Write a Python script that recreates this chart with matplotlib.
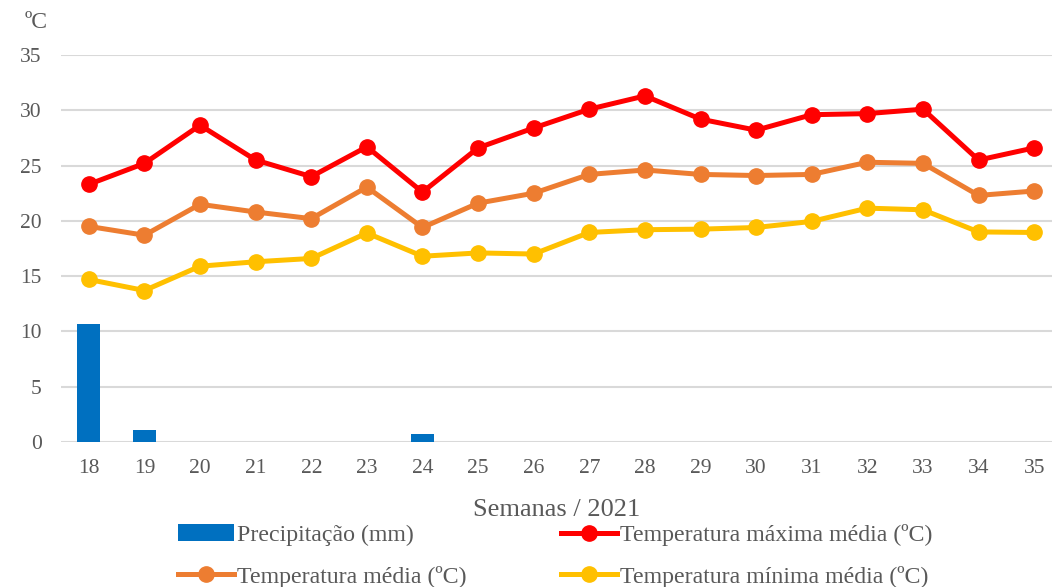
import matplotlib
matplotlib.use("Agg")
import matplotlib.pyplot as plt

# ── Data ─────────────────────────────────────────────────────────────
weeks = [18, 19, 20, 21, 22, 23, 24, 25, 26, 27, 28, 29, 30, 31, 32, 33, 34, 35]
precip = [10.7, 1.1, 0, 0, 0, 0, 0.7, 0, 0, 0, 0, 0, 0, 0, 0, 0, 0, 0]
t_max = [23.3, 25.2, 28.65, 25.5, 24.0, 26.7, 22.6, 26.6, 28.4, 30.1, 31.3,
         29.2, 28.2, 29.6, 29.7, 30.1, 25.5, 26.6]
t_mean = [19.5, 18.7, 21.5, 20.8, 20.2, 23.05, 19.4, 21.6, 22.5, 24.2, 24.6,
          24.2, 24.1, 24.2, 25.3, 25.2, 22.3, 22.7]
t_min = [14.7, 13.7, 15.9, 16.3, 16.6, 18.9, 16.8, 17.1, 17.0, 18.95, 19.2,
         19.25, 19.4, 19.95, 21.15, 21.0, 19.0, 18.95]

labels = ["Precipitação (mm)", "Temperatura máxima média (ºC)",
          "Temperatura média (ºC)", "Temperatura mínima média (ºC)"]

TXT = "#595959"
plt.rcParams["font.family"] = ["Liberation Serif", "DejaVu Serif"]
plt.rcParams["font.size"] = 15.5

fig = plt.figure(figsize=(10.52, 5.87), dpi=100)
ax = fig.add_axes([61 / 1052, 1 - 442 / 587, 1 - 61 / 1052, (442 - 55) / 587])

bar = ax.bar(weeks, precip, width=0.42, color="#0070C0", zorder=2)
lw, ms = 3.6, 11
l_max, = ax.plot(weeks, t_max, color="#FF0000", lw=lw, marker="o", ms=ms, zorder=3)
l_mean, = ax.plot(weeks, t_mean, color="#ED7D31", lw=lw, marker="o", ms=ms, zorder=3)
l_min, = ax.plot(weeks, t_min, color="#FFC000", lw=lw, marker="o", ms=ms, zorder=3)

ax.set_ylim(0, 35)
ax.set_yticks(range(0, 36, 5))
ax.set_xlim(17.5, 35.32)
ax.set_xticks(weeks)
ax.grid(axis="y", color="#D9D9D9", lw=1.5, zorder=0)
ax.set_axisbelow(True)
for s in ax.spines.values():
    s.set_visible(False)
ax.tick_params(length=0, colors=TXT, labelsize=15.5)
ax.tick_params(axis="x", pad=12)
ax.tick_params(axis="y", pad=14)

ax.set_xlabel("Semanas / 2021", color=TXT, fontsize=19, labelpad=15)
fig.text(36 / 1052, 1 - 22 / 587, "ºC", color=TXT, fontsize=17,
         ha="center", va="center")

# legend: row-major order like the original (matplotlib fills columns first)
leg = fig.legend([bar, l_mean, l_max, l_min],
                 [labels[0], labels[2], labels[1], labels[3]],
                 ncol=2, loc="upper left", bbox_to_anchor=(178 / 1052, 1 - 524 / 587),
                 frameon=False, handlelength=2.35, handletextpad=0.12,
                 columnspacing=3.95, labelspacing=0.82, fontsize=17.2,
                 borderpad=0, borderaxespad=0)
for t in leg.get_texts():
    t.set_color(TXT)

fig.savefig("out.png", dpi=100)
